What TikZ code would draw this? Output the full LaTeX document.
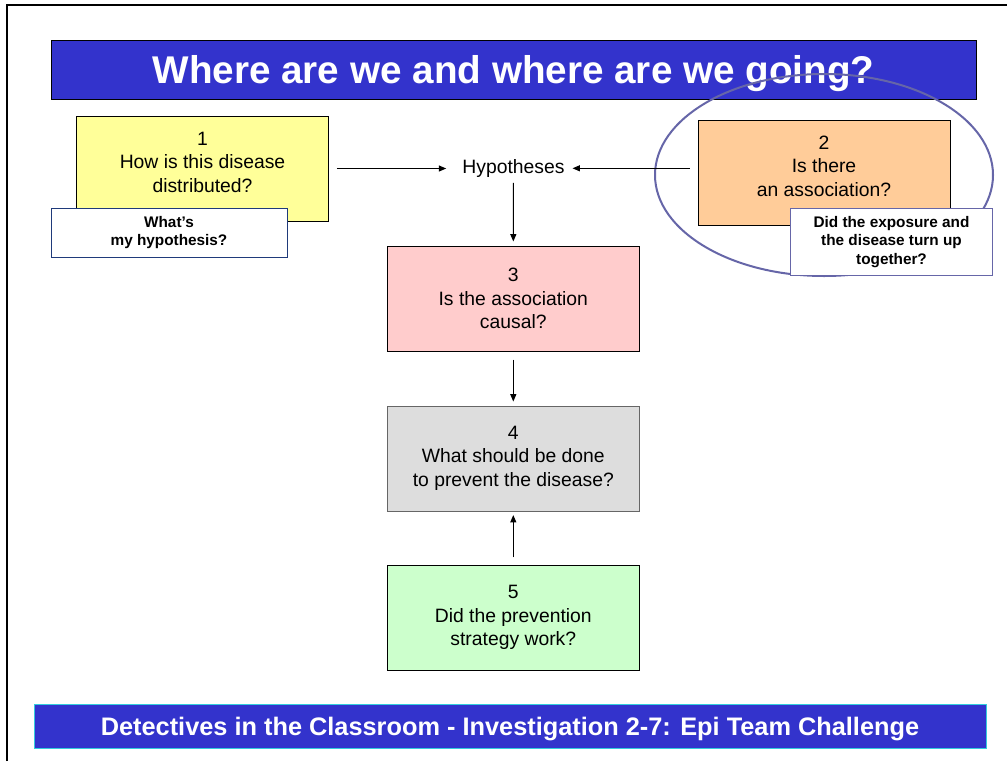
\documentclass[tikz,border=0pt]{standalone}
\usepackage{fontspec}
\setmainfont{Liberation Sans}
\usetikzlibrary{arrows.meta}
\definecolor{barblue}{RGB}{51,51,204}
\definecolor{barrim}{RGB}{51,204,221}
\definecolor{qyellow}{RGB}{255,255,153}
\definecolor{qorange}{RGB}{255,204,153}
\definecolor{qpink}{RGB}{255,204,204}
\definecolor{qgrey}{RGB}{221,221,221}
\definecolor{qgreen}{RGB}{204,255,204}
\definecolor{noteblue}{RGB}{31,58,122}
\definecolor{ringblue}{RGB}{102,102,168}
\begin{document}
\begin{tikzpicture}[x=0.75pt,y=-0.75pt,
    qbox/.style={draw, minimum width=189pt, minimum height=78.75pt, inner sep=0pt,
      align=center, font=\fontsize{14.5}{17.6}\selectfont},
    qtext/.style={align=center, inner sep=0pt, font=\fontsize{14.5}{17.6}\selectfont},
    note/.style={draw, fill=white, align=center, inner sep=0pt,
      font=\bfseries\fontsize{11.5}{13.9}\selectfont},
    bar/.style={draw, fill=barblue, text=white, inner sep=0pt, text depth=0pt},
    link/.style={-{Triangle[length=5.5pt,width=4.5pt]}, line width=0.75pt}]
  \useasboundingbox (0,0) rectangle (1007,761);
  % frame
  \draw[line width=1.5pt] (7,761) -- (7,5) -- (1007,5);
  % title
  \node[bar, minimum width=693.75pt, minimum height=44.25pt,
    font=\bfseries\fontsize{29}{34}\selectfont] (title) at (513.5,69.5)
    {Where are we and where are we going?};
  % circled step
  \draw[ringblue, line width=1.5pt] (824,175) ellipse [x radius=169, y radius=101];
  % steps
  \node[qbox, fill=qyellow] (q1) at (202.5,168.5) {};
  \node[qtext] (q1t) at (202.5,162) {1\\How is this disease\\distributed?};
  \node[qbox, fill=qorange] (q2) at (824,173) {};
  \node[qtext] (q2t) at (824,166) {2\\Is there\\an association?};
  \node[qbox, fill=qpink] (q3) at (513.3,298.5) {3\\Is the association\\causal?};
  \node[qbox, fill=qgrey, draw=black!60] (q4) at (513.3,458.3)
    {4\\What should be done\\to prevent the disease?};
  \node[qbox, fill=qgreen] (q5) at (513.3,617.7) {5\\Did the prevention\\strategy work?};
  \node[qtext, anchor=base] (hyp) at (513.5,173.3) {Hypotheses};
  % notes
  \node[note, draw=noteblue, minimum width=177pt, minimum height=36.75pt] (n1)
    at (169,232.7) {What’s\\my hypothesis?};
  \node[note, draw=ringblue, minimum width=151.5pt, minimum height=50.25pt] (n2)
    at (891.5,242) {Did the exposure and\\the disease turn up\\together?};
  % arrows
  \begin{scope}[link]
    \draw[shorten <=6pt, shorten >=12pt] (q1.east) -- (q1.east -| hyp.west);
    \draw[shorten <=6pt, shorten >=5.8pt] (q2.west |- hyp.east) -- (hyp.east);
    \draw[shorten <=4pt, shorten >=3.2pt] (hyp.south) -- (q3.north);
    \draw[shorten <=6.2pt, shorten >=3pt] (q3.south) -- (q4.north);
    \draw[shorten <=5.7pt, shorten >=3pt] (q5.north) -- (q4.south);
  \end{scope}
  % footer
  \node[bar, draw=barrim, minimum width=714pt, minimum height=33pt,
    font=\bfseries\fontsize{19}{23}\selectfont] (foot) at (510,726)
    {Detectives in the Classroom - Investigation 2-7: Epi Team Challenge};
\end{tikzpicture}
\end{document}
